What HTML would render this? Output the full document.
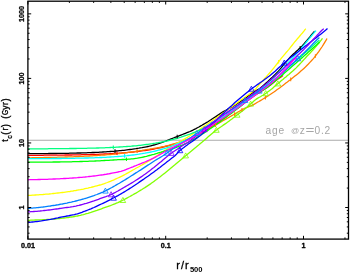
<!DOCTYPE html>
<html><head><meta charset="utf-8"><title>cooling time</title>
<style>
html,body{margin:0;padding:0;background:#fff;}
body{width:350px;height:273px;overflow:hidden;font-family:"Liberation Sans",sans-serif;}
svg{display:block;}
text{font-family:"Liberation Sans",sans-serif;}
</style></head><body>
<svg width="350" height="273" viewBox="0 0 350 273" style="will-change:transform">
<rect width="350" height="273" fill="#fff"/>
<line x1="27.9" y1="140.2" x2="348.5" y2="140.2" stroke="#aaaaaa" stroke-width="1.1"/>
<text transform="translate(265.6 133.9) scale(1 1)" font-size="10.2" fill="#a6a6a6">a</text>
<text transform="translate(271.9 133.9) scale(1 1)" font-size="10.2" fill="#a6a6a6">g</text>
<text transform="translate(278.5 133.9) scale(1 1)" font-size="10.2" fill="#a6a6a6">e</text>
<text transform="translate(290.9 132.6) scale(1 1)" font-size="8.1" fill="#a6a6a6">@</text>
<text transform="translate(299.8 133.9) scale(1 1)" font-size="10.2" fill="#a6a6a6">z</text>
<text transform="translate(305.4 133.9) scale(1.5 1)" font-size="10.2" fill="#a6a6a6">=</text>
<text transform="translate(314.6 133.9) scale(1 1)" font-size="10.2" fill="#a6a6a6">0</text>
<text transform="translate(321.0 133.9) scale(1 1)" font-size="10.2" fill="#a6a6a6">.</text>
<text transform="translate(324.6 133.9) scale(1 1)" font-size="10.2" fill="#a6a6a6">2</text>
<path d="M27.9 153.7 L29.4 153.7 L30.9 153.7 L32.4 153.7 L33.9 153.7 L35.4 153.7 L36.9 153.6 L38.4 153.6 L39.9 153.6 L41.4 153.6 L42.9 153.6 L44.4 153.6 L45.9 153.6 L47.4 153.6 L48.9 153.5 L50.4 153.5 L51.9 153.5 L53.4 153.5 L54.9 153.5 L56.4 153.5 L57.9 153.4 L59.4 153.4 L60.9 153.4 L62.4 153.4 L63.9 153.3 L65.4 153.3 L66.9 153.3 L68.4 153.3 L69.9 153.2 L71.4 153.2 L72.9 153.2 L74.4 153.1 L75.9 153.1 L77.4 153.0 L78.9 153.0 L80.4 153.0 L81.9 152.9 L83.4 152.9 L84.9 152.8 L86.4 152.8 L87.9 152.7 L89.4 152.7 L90.9 152.6 L92.4 152.5 L93.9 152.5 L95.4 152.4 L96.9 152.3 L98.4 152.3 L99.9 152.2 L101.4 152.1 L102.9 152.0 L104.4 151.9 L105.9 151.8 L107.4 151.7 L108.9 151.6 L110.4 151.5 L111.9 151.4 L113.4 151.3 L114.9 151.2 L116.4 151.0 L117.9 150.9 L119.4 150.7 L120.9 150.6 L122.4 150.4 L123.9 150.3 L125.4 150.1 L126.9 149.9 L128.4 149.7 L129.9 149.5 L131.4 149.3 L132.9 149.1 L134.4 148.9 L135.9 148.7 L137.4 148.4 L138.9 148.2 L140.4 147.9 L141.9 147.7 L143.4 147.4 L144.9 147.1 L146.4 146.8 L147.9 146.5 L149.4 146.2 L150.9 145.8 L152.4 145.4 L153.9 145.0 L155.4 144.6 L156.9 144.1 L158.4 143.7 L159.9 143.1 L161.4 142.6 L162.9 142.1 L164.4 141.5 L165.9 141.0 L167.4 140.4 L168.9 139.8 L170.4 139.2 L171.9 138.6 L173.4 138.0 L174.9 137.4 L176.4 136.8 L177.9 136.3 L179.4 135.7 L180.9 135.1 L182.4 134.5 L183.9 133.9 L185.4 133.3 L186.9 132.7 L188.4 132.1 L189.9 131.5 L191.4 130.8 L192.9 130.1 L194.4 129.3 L195.9 128.6 L197.4 127.8 L198.9 127.0 L200.4 126.1 L201.9 125.3 L203.4 124.4 L204.9 123.5 L206.4 122.6 L207.9 121.7 L209.4 120.7 L210.9 119.8 L212.4 118.8 L213.9 117.8 L215.4 116.9 L216.9 115.9 L218.4 114.9 L219.9 113.9 L221.4 112.9 L222.9 111.9 L224.4 111.0 L225.9 110.2 L227.4 109.4 L228.9 108.7 L230.4 107.9 L231.9 107.1 L233.4 106.3 L234.9 105.3 L236.4 104.3 L237.9 103.3 L239.4 102.3 L240.9 101.2 L242.4 100.2 L243.9 99.1 L245.4 98.0 L246.9 96.9 L248.4 95.8 L249.9 94.7 L251.4 93.6 L252.9 92.6 L254.4 91.6 L255.9 90.7 L257.4 89.8 L258.9 89.0 L260.4 88.0 L261.9 86.7 L263.4 85.4 L264.9 84.1 L266.4 82.7 L267.9 81.4 L269.4 80.0 L270.9 78.6 L272.4 77.2 L273.9 75.7 L275.4 74.3 L276.9 72.7 L278.4 71.1 L279.9 69.4 L281.4 67.6 L282.9 65.7 L284.4 63.9 L285.9 62.1 L287.4 60.4 L288.9 58.6 L290.4 56.9 L291.9 55.4 L293.4 54.0 L294.9 52.7 L296.4 51.3 L297.9 50.0 L299.4 48.6 L300.9 47.2 L302.4 45.7 L303.9 44.0 L305.4 42.2 L306.9 40.5 L308.4 38.7 L309.9 36.9 L311.4 34.9 L312.9 33.1 L314.4 31.5 L314.7 31.2" fill="none" stroke="#000000" stroke-width="1.3" stroke-linejoin="round"/>
<path d="M27.9 155.3 L29.4 155.3 L30.9 155.3 L32.4 155.3 L33.9 155.3 L35.4 155.3 L36.9 155.3 L38.4 155.3 L39.9 155.3 L41.4 155.3 L42.9 155.3 L44.4 155.2 L45.9 155.2 L47.4 155.2 L48.9 155.2 L50.4 155.2 L51.9 155.2 L53.4 155.2 L54.9 155.2 L56.4 155.1 L57.9 155.1 L59.4 155.1 L60.9 155.1 L62.4 155.1 L63.9 155.1 L65.4 155.0 L66.9 155.0 L68.4 155.0 L69.9 155.0 L71.4 155.0 L72.9 154.9 L74.4 154.9 L75.9 154.9 L77.4 154.8 L78.9 154.8 L80.4 154.8 L81.9 154.7 L83.4 154.7 L84.9 154.7 L86.4 154.6 L87.9 154.6 L89.4 154.6 L90.9 154.5 L92.4 154.5 L93.9 154.4 L95.4 154.4 L96.9 154.3 L98.4 154.3 L99.9 154.2 L101.4 154.1 L102.9 154.1 L104.4 154.0 L105.9 153.9 L107.4 153.9 L108.9 153.8 L110.4 153.7 L111.9 153.6 L113.4 153.5 L114.9 153.5 L116.4 153.4 L117.9 153.3 L119.4 153.2 L120.9 153.1 L122.4 152.9 L123.9 152.8 L125.4 152.7 L126.9 152.6 L128.4 152.4 L129.9 152.3 L131.4 152.1 L132.9 152.0 L134.4 151.8 L135.9 151.7 L137.4 151.5 L138.9 151.3 L140.4 151.1 L141.9 150.9 L143.4 150.7 L144.9 150.5 L146.4 150.3 L147.9 150.0 L149.4 149.8 L150.9 149.5 L152.4 149.3 L153.9 149.0 L155.4 148.7 L156.9 148.4 L158.4 148.1 L159.9 147.8 L161.4 147.5 L162.9 147.1 L164.4 146.8 L165.9 146.4 L167.4 146.0 L168.9 145.7 L170.4 145.2 L171.9 144.8 L173.4 144.4 L174.9 143.9 L176.4 143.5 L177.9 143.0 L179.4 142.5 L180.9 142.0 L182.4 141.5 L183.9 141.0 L185.4 140.4 L186.9 139.8 L188.4 139.2 L189.9 138.5 L191.4 137.7 L192.9 137.0 L194.4 136.2 L195.9 135.4 L197.4 134.6 L198.9 133.8 L200.4 133.0 L201.9 132.1 L203.4 131.2 L204.9 130.4 L206.4 129.4 L207.9 128.5 L209.4 127.6 L210.9 126.6 L212.4 125.7 L213.9 124.7 L215.4 123.7 L216.9 122.8 L218.4 121.8 L219.9 120.8 L221.4 119.8 L222.9 118.7 L224.4 117.7 L225.9 116.7 L227.4 115.6 L228.9 114.5 L230.4 113.5 L231.9 112.4 L233.4 111.3 L234.9 110.2 L236.4 109.1 L237.9 108.0 L239.4 106.9 L240.9 105.7 L242.4 104.6 L243.9 103.4 L245.4 102.3 L246.9 101.1 L248.4 99.9 L249.9 98.8 L251.4 97.7 L252.9 96.6 L254.4 95.7 L255.9 94.7 L257.4 93.8 L258.9 92.9 L260.4 91.9 L261.9 91.0 L263.4 90.0 L264.9 89.0 L266.4 88.0 L267.9 86.9 L269.4 85.8 L270.9 84.7 L272.4 83.5 L273.9 82.3 L275.4 81.0 L276.9 79.8 L278.4 78.7 L279.9 77.7 L281.4 76.7 L282.9 75.6 L283.0 75.5" fill="none" stroke="#ff0000" stroke-width="1.3" stroke-linejoin="round"/>
<path d="M27.9 157.8 L29.4 157.8 L30.9 157.8 L32.4 157.7 L33.9 157.7 L35.4 157.7 L36.9 157.7 L38.4 157.7 L39.9 157.6 L41.4 157.6 L42.9 157.6 L44.4 157.5 L45.9 157.5 L47.4 157.5 L48.9 157.5 L50.4 157.4 L51.9 157.4 L53.4 157.4 L54.9 157.3 L56.4 157.3 L57.9 157.2 L59.4 157.2 L60.9 157.2 L62.4 157.1 L63.9 157.1 L65.4 157.0 L66.9 157.0 L68.4 156.9 L69.9 156.9 L71.4 156.8 L72.9 156.8 L74.4 156.7 L75.9 156.6 L77.4 156.6 L78.9 156.5 L80.4 156.4 L81.9 156.4 L83.4 156.3 L84.9 156.2 L86.4 156.2 L87.9 156.1 L89.4 156.0 L90.9 155.9 L92.4 155.8 L93.9 155.7 L95.4 155.6 L96.9 155.5 L98.4 155.4 L99.9 155.3 L101.4 155.2 L102.9 155.1 L104.4 155.0 L105.9 154.8 L107.4 154.7 L108.9 154.6 L110.4 154.5 L111.9 154.3 L113.4 154.2 L114.9 154.0 L116.4 153.9 L117.9 153.7 L119.4 153.5 L120.9 153.4 L122.4 153.2 L123.9 153.0 L125.4 152.8 L126.9 152.6 L128.4 152.4 L129.9 152.2 L131.4 152.0 L132.9 151.8 L134.4 151.6 L135.9 151.3 L137.4 151.1 L138.9 150.9 L140.4 150.6 L141.9 150.4 L143.4 150.1 L144.9 149.9 L146.4 149.6 L147.9 149.4 L149.4 149.2 L150.9 148.9 L152.4 148.7 L153.9 148.4 L155.4 148.1 L156.9 147.9 L158.4 147.6 L159.9 147.3 L161.4 147.0 L162.9 146.7 L164.4 146.4 L165.9 146.0 L167.4 145.7 L168.9 145.3 L170.4 144.9 L171.9 144.4 L173.4 144.0 L174.9 143.6 L176.4 143.1 L177.9 142.6 L179.4 142.2 L180.9 141.7 L182.4 141.2 L183.9 140.7 L185.4 140.1 L186.9 139.5 L188.4 138.9 L189.9 138.3 L191.4 137.7 L192.9 137.0 L194.4 136.3 L195.9 135.6 L197.4 134.9 L198.9 134.2 L200.4 133.4 L201.9 132.7 L203.4 131.9 L204.9 131.1 L206.4 130.3 L207.9 129.5 L209.4 128.6 L210.9 127.8 L212.4 126.9 L213.9 126.0 L215.4 125.2 L216.9 124.3 L218.4 123.4 L219.9 122.5 L221.4 121.7 L222.9 120.8 L224.4 119.9 L225.9 119.1 L227.4 118.2 L228.9 117.4 L230.4 116.5 L231.9 115.6 L233.4 114.8 L234.9 113.9 L236.4 113.0 L237.9 112.1 L239.4 111.3 L240.9 110.4 L242.4 109.5 L243.9 108.7 L245.4 108.0 L246.9 107.4 L248.4 106.8 L249.9 106.2 L251.4 105.6 L252.9 104.9 L254.4 104.1 L255.9 103.2 L257.4 102.3 L258.9 101.5 L260.4 100.6 L261.9 99.7 L263.4 98.8 L264.9 97.9 L266.4 96.9 L267.9 96.0 L269.4 95.0 L270.9 94.0 L272.4 93.0 L273.9 92.0 L275.4 90.9 L276.9 89.8 L278.4 88.8 L279.9 87.7 L281.4 86.5 L282.9 85.4 L284.4 84.3 L285.9 83.1 L287.4 82.0 L288.9 80.8 L290.4 79.7 L291.9 78.5 L293.4 77.3 L294.9 76.1 L296.4 74.9 L297.9 73.7 L299.4 72.4 L300.9 71.1 L302.4 69.8 L303.9 68.4 L305.4 67.0 L306.9 65.5 L308.4 64.0 L309.9 62.4 L311.4 60.8 L312.9 59.1 L314.4 57.3 L315.9 55.4 L317.4 53.4 L318.9 51.4 L320.4 49.2 L321.9 47.0 L323.4 44.6 L324.9 42.1 L326.4 39.6 L327.0 38.5" fill="none" stroke="#ff8000" stroke-width="1.3" stroke-linejoin="round"/>
<path d="M27.9 195.4 L29.4 195.3 L30.9 195.3 L32.4 195.2 L33.9 195.1 L35.4 195.0 L36.9 194.9 L38.4 194.8 L39.9 194.7 L41.4 194.6 L42.9 194.5 L44.4 194.3 L45.9 194.2 L47.4 194.1 L48.9 194.0 L50.4 193.8 L51.9 193.7 L53.4 193.5 L54.9 193.4 L56.4 193.2 L57.9 193.0 L59.4 192.9 L60.9 192.7 L62.4 192.5 L63.9 192.3 L65.4 192.1 L66.9 191.9 L68.4 191.7 L69.9 191.5 L71.4 191.2 L72.9 191.0 L74.4 190.7 L75.9 190.5 L77.4 190.2 L78.9 189.9 L80.4 189.7 L81.9 189.4 L83.4 189.1 L84.9 188.7 L86.4 188.4 L87.9 188.1 L89.4 187.7 L90.9 187.4 L92.4 187.0 L93.9 186.6 L95.4 186.2 L96.9 185.8 L98.4 185.4 L99.9 185.0 L101.4 184.6 L102.9 184.1 L104.4 183.6 L105.9 183.0 L107.4 182.5 L108.9 181.9 L110.4 181.3 L111.9 180.7 L113.4 180.1 L114.9 179.4 L116.4 178.7 L117.9 178.0 L119.4 177.3 L120.9 176.6 L122.4 175.9 L123.9 175.1 L125.4 174.3 L126.9 173.4 L128.4 172.6 L129.9 171.7 L131.4 170.9 L132.9 170.0 L134.4 169.2 L135.9 168.3 L137.4 167.5 L138.9 166.7 L140.4 165.8 L141.9 165.0 L143.4 164.1 L144.9 163.2 L146.4 162.4 L147.9 161.5 L149.4 160.6 L150.9 159.6 L152.4 158.7 L153.9 157.7 L155.4 156.7 L156.9 155.8 L158.4 154.7 L159.9 153.7 L161.4 152.7 L162.9 151.7 L164.4 150.7 L165.9 149.8 L167.4 148.8 L168.9 148.0 L170.4 147.2 L171.9 146.3 L173.4 145.5 L174.9 144.6 L176.4 143.8 L177.9 142.9 L179.4 142.0 L180.9 141.2 L182.4 140.3 L183.9 139.4 L185.4 138.5 L186.9 137.6 L188.4 136.7 L189.9 135.8 L191.4 134.8 L192.9 133.9 L194.4 132.9 L195.9 132.0 L197.4 131.0 L198.9 130.0 L200.4 128.9 L201.9 127.9 L203.4 126.9 L204.9 125.9 L206.4 124.8 L207.9 123.8 L209.4 122.7 L210.9 121.7 L212.4 120.6 L213.9 119.5 L215.4 118.5 L216.9 117.4 L218.4 116.3 L219.9 115.3 L221.4 114.2 L222.9 113.1 L224.4 112.1 L225.9 111.0 L227.4 109.9 L228.9 108.8 L230.4 107.7 L231.9 106.6 L233.4 105.6 L234.9 104.5 L236.4 103.4 L237.9 102.3 L239.4 101.2 L240.9 100.1 L242.4 99.0 L243.9 98.0 L245.4 96.9 L246.9 95.8 L248.4 94.8 L249.9 93.7 L251.4 92.6 L252.9 91.5 L254.4 90.2 L255.9 88.6 L257.4 86.8 L258.9 85.1 L260.4 83.4 L261.9 81.7 L263.4 80.0 L264.9 78.3 L266.4 76.6 L267.9 74.9 L269.4 73.2 L270.9 71.5 L272.4 69.7 L273.9 67.8 L275.4 65.9 L276.9 64.0 L278.4 62.0 L279.9 60.1 L281.4 58.2 L282.9 56.4 L284.4 54.6 L285.9 52.8 L287.4 51.1 L288.9 49.3 L290.4 47.4 L291.9 45.5 L293.4 43.6 L294.9 41.7 L296.4 40.0 L297.9 38.2 L299.4 36.5 L300.9 34.6 L302.4 33.0 L303.9 31.2 L305.4 29.1 L305.7 28.6" fill="none" stroke="#ffff00" stroke-width="1.3" stroke-linejoin="round"/>
<path d="M27.9 220.4 L29.4 220.3 L30.9 220.2 L32.4 220.1 L33.9 220.1 L35.4 220.0 L36.9 219.9 L38.4 219.9 L39.9 219.8 L41.4 219.8 L42.9 219.7 L44.4 219.6 L45.9 219.6 L47.4 219.5 L48.9 219.4 L50.4 219.3 L51.9 219.2 L53.4 219.1 L54.9 219.0 L56.4 218.9 L57.9 218.7 L59.4 218.5 L60.9 218.4 L62.4 218.2 L63.9 218.0 L65.4 217.9 L66.9 217.7 L68.4 217.5 L69.9 217.2 L71.4 217.0 L72.9 216.8 L74.4 216.5 L75.9 216.2 L77.4 216.0 L78.9 215.6 L80.4 215.3 L81.9 214.9 L83.4 214.6 L84.9 214.2 L86.4 213.7 L87.9 213.3 L89.4 212.8 L90.9 212.4 L92.4 211.9 L93.9 211.4 L95.4 210.9 L96.9 210.4 L98.4 209.8 L99.9 209.3 L101.4 208.8 L102.9 208.2 L104.4 207.7 L105.9 207.2 L107.4 206.7 L108.9 206.1 L110.4 205.6 L111.9 205.0 L113.4 204.4 L114.9 203.8 L116.4 203.2 L117.9 202.6 L119.4 201.9 L120.9 201.2 L122.4 200.5 L123.9 199.7 L125.4 198.9 L126.9 198.1 L128.4 197.3 L129.9 196.5 L131.4 195.6 L132.9 194.8 L134.4 193.9 L135.9 193.1 L137.4 192.2 L138.9 191.3 L140.4 190.4 L141.9 189.5 L143.4 188.5 L144.9 187.6 L146.4 186.6 L147.9 185.6 L149.4 184.6 L150.9 183.6 L152.4 182.5 L153.9 181.4 L155.4 180.3 L156.9 179.2 L158.4 178.1 L159.9 176.9 L161.4 175.7 L162.9 174.6 L164.4 173.4 L165.9 172.2 L167.4 171.0 L168.9 169.8 L170.4 168.6 L171.9 167.3 L173.4 166.0 L174.9 164.8 L176.4 163.5 L177.9 162.2 L179.4 161.0 L180.9 159.7 L182.4 158.4 L183.9 157.2 L185.4 155.9 L186.9 154.7 L188.4 153.4 L189.9 152.2 L191.4 151.0 L192.9 149.7 L194.4 148.5 L195.9 147.3 L197.4 146.0 L198.9 144.8 L200.4 143.5 L201.9 142.3 L203.4 141.0 L204.9 139.7 L206.4 138.4 L207.9 137.1 L209.4 135.8 L210.9 134.5 L212.4 133.3 L213.9 132.0 L215.4 130.8 L216.9 129.7 L218.4 128.6 L219.9 127.5 L221.4 126.5 L222.9 125.4 L224.4 124.4 L225.9 123.4 L227.4 122.3 L228.9 121.2 L230.4 120.1 L231.9 119.0 L233.4 117.8 L234.9 116.7 L236.4 115.6 L237.9 114.4 L239.4 113.3 L240.9 112.1 L242.4 110.9 L243.9 109.7 L245.4 108.5 L246.9 107.2 L248.4 105.9 L249.9 104.6 L251.4 103.2 L252.9 101.9 L254.4 100.6 L255.9 99.4 L257.4 98.4 L258.9 97.5 L260.4 96.7 L261.9 95.8 L263.4 95.0 L264.9 94.0 L266.4 92.9 L267.9 91.8 L269.4 90.7 L270.9 89.6 L272.4 88.4 L273.9 87.1 L275.4 85.8 L276.9 84.5 L278.4 83.2 L279.9 81.9 L281.4 80.6 L282.9 79.4 L284.4 78.1 L285.9 76.9 L287.4 75.6 L288.9 74.4 L290.4 73.1 L291.9 71.8 L293.4 70.5 L294.9 69.1 L296.4 67.6 L297.9 66.0 L299.4 64.5 L300.9 62.9 L302.4 61.2 L303.9 59.6 L305.4 58.0 L306.9 56.3 L308.4 54.7 L309.9 53.2 L311.4 51.6 L312.9 50.0 L314.4 48.3 L315.9 46.6 L317.4 44.9 L318.9 43.0 L320.4 41.2 L321.9 39.2 L322.5 38.4" fill="none" stroke="#80ff00" stroke-width="1.3" stroke-linejoin="round"/>
<path d="M27.9 162.2 L29.4 162.2 L30.9 162.2 L32.4 162.2 L33.9 162.2 L35.4 162.2 L36.9 162.2 L38.4 162.2 L39.9 162.2 L41.4 162.2 L42.9 162.1 L44.4 162.1 L45.9 162.1 L47.4 162.1 L48.9 162.1 L50.4 162.1 L51.9 162.1 L53.4 162.0 L54.9 162.0 L56.4 162.0 L57.9 162.0 L59.4 162.0 L60.9 161.9 L62.4 161.9 L63.9 161.9 L65.4 161.9 L66.9 161.8 L68.4 161.8 L69.9 161.8 L71.4 161.8 L72.9 161.7 L74.4 161.7 L75.9 161.6 L77.4 161.6 L78.9 161.6 L80.4 161.5 L81.9 161.5 L83.4 161.4 L84.9 161.4 L86.4 161.3 L87.9 161.3 L89.4 161.2 L90.9 161.2 L92.4 161.1 L93.9 161.1 L95.4 161.0 L96.9 160.9 L98.4 160.9 L99.9 160.8 L101.4 160.7 L102.9 160.6 L104.4 160.5 L105.9 160.4 L107.4 160.4 L108.9 160.3 L110.4 160.1 L111.9 160.1 L113.4 160.0 L114.9 159.9 L116.4 159.8 L117.9 159.7 L119.4 159.7 L120.9 159.6 L122.4 159.5 L123.9 159.5 L125.4 159.4 L126.9 159.3 L128.4 159.2 L129.9 159.1 L131.4 158.9 L132.9 158.8 L134.4 158.6 L135.9 158.4 L137.4 158.2 L138.9 157.9 L140.4 157.6 L141.9 157.3 L143.4 157.0 L144.9 156.6 L146.4 156.3 L147.9 155.9 L149.4 155.5 L150.9 155.1 L152.4 154.7 L153.9 154.3 L155.4 153.8 L156.9 153.4 L158.4 152.9 L159.9 152.5 L161.4 152.0 L162.9 151.6 L164.4 151.1 L165.9 150.7 L167.4 150.2 L168.9 149.8 L170.4 149.3 L171.9 148.8 L173.4 148.3 L174.9 147.8 L176.4 147.3 L177.9 146.7 L179.4 146.2 L180.9 145.6 L182.4 145.0 L183.9 144.4 L185.4 143.7 L186.9 143.0 L188.4 142.3 L189.9 141.5 L191.4 140.7 L192.9 139.8 L194.4 139.0 L195.9 138.1 L197.4 137.1 L198.9 136.2 L200.4 135.3 L201.9 134.3 L203.4 133.4 L204.9 132.4 L206.4 131.4 L207.9 130.4 L209.4 129.3 L210.9 128.3 L212.4 127.2 L213.9 126.2 L215.4 125.1 L216.9 124.0 L218.4 123.0 L219.9 121.9 L221.4 120.8 L222.9 119.6 L224.4 118.5 L225.9 117.4 L227.4 116.3 L228.9 115.1 L230.4 114.0 L231.9 112.9 L233.4 111.8 L234.9 110.6 L236.4 109.5 L237.9 108.3 L239.4 107.2 L240.9 106.0 L242.4 104.8 L243.9 103.6 L245.4 102.3 L246.9 101.0 L248.4 99.7 L249.9 98.5 L251.4 97.4 L252.9 96.3 L254.4 95.3 L255.9 94.4 L257.4 93.5 L258.9 92.6 L260.4 91.6 L261.9 90.7 L263.4 89.9 L264.9 89.0 L266.4 88.1 L267.9 87.0 L269.4 85.8 L270.9 84.5 L272.4 83.3 L273.9 82.0 L275.4 80.8 L276.9 79.5 L278.4 78.3 L279.9 77.0 L281.4 75.7 L282.9 74.4 L284.4 73.1 L285.9 71.8 L287.4 70.5 L288.9 69.2 L290.4 67.9 L291.9 66.6 L293.4 65.3 L294.9 64.0 L296.4 62.7 L297.9 61.3 L299.4 60.0 L300.9 58.7 L302.4 57.4 L303.9 56.1 L305.4 54.7 L306.9 53.4 L308.4 52.1 L309.9 50.7 L311.4 49.4 L312.9 48.1 L314.4 46.7 L315.9 45.4 L317.4 44.1 L318.9 42.7 L319.7 42.0" fill="none" stroke="#00ff00" stroke-width="1.3" stroke-linejoin="round"/>
<path d="M27.9 148.8 L29.4 148.8 L30.9 148.8 L32.4 148.8 L33.9 148.8 L35.4 148.8 L36.9 148.8 L38.4 148.8 L39.9 148.8 L41.4 148.8 L42.9 148.8 L44.4 148.8 L45.9 148.8 L47.4 148.8 L48.9 148.7 L50.4 148.7 L51.9 148.7 L53.4 148.7 L54.9 148.7 L56.4 148.7 L57.9 148.7 L59.4 148.7 L60.9 148.6 L62.4 148.6 L63.9 148.6 L65.4 148.6 L66.9 148.6 L68.4 148.6 L69.9 148.5 L71.4 148.5 L72.9 148.5 L74.4 148.5 L75.9 148.5 L77.4 148.4 L78.9 148.4 L80.4 148.4 L81.9 148.4 L83.4 148.3 L84.9 148.3 L86.4 148.3 L87.9 148.2 L89.4 148.2 L90.9 148.2 L92.4 148.1 L93.9 148.1 L95.4 148.1 L96.9 148.0 L98.4 148.0 L99.9 147.9 L101.4 147.9 L102.9 147.8 L104.4 147.8 L105.9 147.7 L107.4 147.6 L108.9 147.6 L110.4 147.5 L111.9 147.4 L113.4 147.4 L114.9 147.3 L116.4 147.2 L117.9 147.1 L119.4 147.0 L120.9 146.9 L122.4 146.8 L123.9 146.7 L125.4 146.6 L126.9 146.5 L128.4 146.4 L129.9 146.3 L131.4 146.2 L132.9 146.0 L134.4 145.9 L135.9 145.8 L137.4 145.6 L138.9 145.4 L140.4 145.3 L141.9 145.1 L143.4 144.9 L144.9 144.7 L146.4 144.5 L147.9 144.3 L149.4 144.1 L150.9 143.9 L152.4 143.7 L153.9 143.4 L155.4 143.2 L156.9 142.9 L158.4 142.7 L159.9 142.4 L161.4 142.1 L162.9 141.8 L164.4 141.5 L165.9 141.1 L167.4 140.8 L168.9 140.5 L170.4 140.1 L171.9 139.7 L173.4 139.3 L174.9 138.9 L176.4 138.5 L177.9 138.1 L179.4 137.6 L180.9 137.2 L182.4 136.7 L183.9 136.2 L185.4 135.7 L186.9 135.2 L188.4 134.6 L189.9 134.1 L191.4 133.5 L192.9 132.9 L194.4 132.3 L195.9 131.7 L197.4 131.0 L198.9 130.4 L200.4 129.7 L201.9 129.0 L203.4 128.3 L204.9 127.6 L206.4 126.8 L207.9 126.1 L209.4 125.3 L210.9 124.5 L212.4 123.7 L213.9 122.9 L215.4 122.1 L216.9 121.2 L218.4 120.3 L219.9 119.5 L221.4 118.6 L222.9 117.6 L224.4 116.7 L225.9 115.8 L227.4 114.8 L228.9 113.8 L230.4 112.9 L231.9 111.9 L233.4 110.9 L234.9 109.8 L236.4 108.8 L237.9 107.7 L239.4 106.7 L240.9 105.6 L242.4 104.5 L243.9 103.4 L245.4 102.3 L246.9 101.2 L248.4 100.1 L249.9 98.9 L251.4 97.8 L252.9 96.6 L254.4 95.5 L255.9 94.3 L257.4 93.1 L258.9 91.9 L260.4 90.8 L261.9 89.5 L263.4 88.3 L264.9 87.1 L266.4 85.9 L267.9 84.7 L269.4 83.4 L270.9 82.2 L272.4 80.9 L273.9 79.7 L275.4 78.4 L276.9 77.2 L278.4 75.9 L279.9 74.6 L281.4 73.4 L282.9 72.1 L284.4 70.8 L285.9 69.5 L287.4 68.2 L288.9 66.9 L290.4 65.6 L291.9 64.3 L293.4 63.0 L294.9 61.7 L296.4 60.4 L297.9 59.1 L299.4 57.8 L300.9 56.5 L302.4 55.1 L303.9 53.8 L305.4 52.5 L306.9 51.2 L308.4 49.8 L309.9 48.5 L311.4 47.2 L312.9 45.8 L314.4 44.5 L315.9 43.1 L317.4 41.8 L318.9 40.5 L319.4 40.0" fill="none" stroke="#00ff80" stroke-width="1.3" stroke-linejoin="round"/>
<path d="M27.9 158.7 L29.4 158.7 L30.9 158.7 L32.4 158.7 L33.9 158.6 L35.4 158.6 L36.9 158.6 L38.4 158.6 L39.9 158.6 L41.4 158.6 L42.9 158.6 L44.4 158.6 L45.9 158.6 L47.4 158.6 L48.9 158.6 L50.4 158.6 L51.9 158.5 L53.4 158.5 L54.9 158.5 L56.4 158.5 L57.9 158.5 L59.4 158.5 L60.9 158.5 L62.4 158.4 L63.9 158.4 L65.4 158.4 L66.9 158.4 L68.4 158.4 L69.9 158.3 L71.4 158.3 L72.9 158.3 L74.4 158.3 L75.9 158.2 L77.4 158.2 L78.9 158.2 L80.4 158.1 L81.9 158.1 L83.4 158.1 L84.9 158.0 L86.4 158.0 L87.9 158.0 L89.4 157.9 L90.9 157.9 L92.4 157.8 L93.9 157.8 L95.4 157.7 L96.9 157.7 L98.4 157.6 L99.9 157.5 L101.4 157.5 L102.9 157.4 L104.4 157.3 L105.9 157.3 L107.4 157.2 L108.9 157.1 L110.4 157.0 L111.9 156.9 L113.4 156.8 L114.9 156.7 L116.4 156.6 L117.9 156.5 L119.4 156.4 L120.9 156.3 L122.4 156.1 L123.9 156.0 L125.4 155.8 L126.9 155.7 L128.4 155.5 L129.9 155.4 L131.4 155.2 L132.9 155.0 L134.4 154.8 L135.9 154.6 L137.4 154.4 L138.9 154.2 L140.4 153.9 L141.9 153.7 L143.4 153.4 L144.9 153.2 L146.4 152.9 L147.9 152.6 L149.4 152.3 L150.9 152.0 L152.4 151.7 L153.9 151.3 L155.4 151.0 L156.9 150.6 L158.4 150.2 L159.9 149.8 L161.4 149.4 L162.9 149.0 L164.4 148.5 L165.9 148.1 L167.4 147.6 L168.9 147.1 L170.4 146.6 L171.9 146.0 L173.4 145.5 L174.9 144.9 L176.4 144.3 L177.9 143.7 L179.4 143.1 L180.9 142.4 L182.4 141.7 L183.9 141.0 L185.4 140.3 L186.9 139.6 L188.4 138.9 L189.9 138.1 L191.4 137.3 L192.9 136.5 L194.4 135.7 L195.9 134.8 L197.4 133.9 L198.9 133.0 L200.4 132.1 L201.9 131.2 L203.4 130.3 L204.9 129.4 L206.4 128.4 L207.9 127.5 L209.4 126.5 L210.9 125.5 L212.4 124.6 L213.9 123.6 L215.4 122.6 L216.9 121.6 L218.4 120.5 L219.9 119.5 L221.4 118.5 L222.9 117.4 L224.4 116.3 L225.9 115.3 L227.4 114.2 L228.9 113.1 L230.4 112.0 L231.9 110.9 L233.4 109.8 L234.9 108.7 L236.4 107.6 L237.9 106.5 L239.4 105.4 L240.9 104.3 L242.4 103.3 L243.9 102.2 L245.4 101.0 L246.9 99.9 L248.4 98.8 L249.9 97.6 L251.4 96.4 L252.9 95.2 L254.4 94.1 L255.9 92.9 L257.4 91.7 L258.9 90.5 L260.4 89.3 L261.9 88.1 L263.4 86.9 L264.9 85.6 L266.4 84.3 L267.9 83.0 L269.4 81.6 L270.9 80.2 L272.4 78.7 L273.9 77.3 L275.4 75.8 L276.9 74.3 L278.4 72.8 L279.9 71.3 L281.4 69.7 L282.9 68.2 L284.4 66.6 L285.9 65.1 L287.4 63.5 L288.9 61.9 L290.4 60.4 L291.9 58.8 L293.4 57.1 L294.9 55.5 L296.4 53.8 L297.9 52.1 L299.4 50.4 L300.9 48.7 L302.4 46.9 L303.9 45.1 L305.4 43.3 L306.9 41.5 L308.4 39.7 L309.9 37.8 L311.4 36.0 L312.9 34.1 L314.4 32.3 L315.9 30.7 L316.0 30.6" fill="none" stroke="#00ffff" stroke-width="1.3" stroke-linejoin="round"/>
<path d="M27.9 208.5 L29.4 208.3 L30.9 208.2 L32.4 208.1 L33.9 207.9 L35.4 207.8 L36.9 207.6 L38.4 207.5 L39.9 207.3 L41.4 207.1 L42.9 207.0 L44.4 206.8 L45.9 206.6 L47.4 206.4 L48.9 206.2 L50.4 206.0 L51.9 205.7 L53.4 205.5 L54.9 205.3 L56.4 205.0 L57.9 204.8 L59.4 204.5 L60.9 204.2 L62.4 204.0 L63.9 203.7 L65.4 203.4 L66.9 203.1 L68.4 202.7 L69.9 202.4 L71.4 202.1 L72.9 201.7 L74.4 201.4 L75.9 201.0 L77.4 200.6 L78.9 200.2 L80.4 199.8 L81.9 199.4 L83.4 199.0 L84.9 198.5 L86.4 198.1 L87.9 197.6 L89.4 197.1 L90.9 196.6 L92.4 196.1 L93.9 195.6 L95.4 195.0 L96.9 194.5 L98.4 193.9 L99.9 193.3 L101.4 192.7 L102.9 192.1 L104.4 191.4 L105.9 190.7 L107.4 189.9 L108.9 189.1 L110.4 188.3 L111.9 187.5 L113.4 186.6 L114.9 185.8 L116.4 184.9 L117.9 184.0 L119.4 183.2 L120.9 182.3 L122.4 181.4 L123.9 180.5 L125.4 179.6 L126.9 178.6 L128.4 177.7 L129.9 176.8 L131.4 175.8 L132.9 174.9 L134.4 173.9 L135.9 172.9 L137.4 172.0 L138.9 171.0 L140.4 170.1 L141.9 169.1 L143.4 168.1 L144.9 167.1 L146.4 166.1 L147.9 165.1 L149.4 164.2 L150.9 163.2 L152.4 162.2 L153.9 161.2 L155.4 160.3 L156.9 159.4 L158.4 158.5 L159.9 157.6 L161.4 156.7 L162.9 155.8 L164.4 154.8 L165.9 153.8 L167.4 152.7 L168.9 151.6 L170.4 150.5 L171.9 149.4 L173.4 148.4 L174.9 147.4 L176.4 146.4 L177.9 145.5 L179.4 144.6 L180.9 143.7 L182.4 142.8 L183.9 142.0 L185.4 141.1 L186.9 140.1 L188.4 139.2 L189.9 138.2 L191.4 137.2 L192.9 136.1 L194.4 135.1 L195.9 134.0 L197.4 133.0 L198.9 131.9 L200.4 130.8 L201.9 129.8 L203.4 128.7 L204.9 127.6 L206.4 126.6 L207.9 125.5 L209.4 124.5 L210.9 123.4 L212.4 122.4 L213.9 121.5 L215.4 120.5 L216.9 119.6 L218.4 118.6 L219.9 117.7 L221.4 116.7 L222.9 115.7 L224.4 114.7 L225.9 113.6 L227.4 112.6 L228.9 111.6 L230.4 110.5 L231.9 109.5 L233.4 108.4 L234.9 107.4 L236.4 106.3 L237.9 105.3 L239.4 104.2 L240.9 103.2 L242.4 102.1 L243.9 101.0 L245.4 100.0 L246.9 99.0 L248.4 97.9 L249.9 96.9 L251.4 95.9 L252.9 94.9 L254.4 93.9 L255.9 93.0 L257.4 92.0 L258.9 91.1 L260.4 90.2 L261.9 89.2 L263.4 88.2 L264.9 87.2 L266.4 86.2 L267.9 85.1 L269.4 83.9 L270.9 82.7 L272.4 81.5 L273.9 80.3 L275.4 79.0 L276.9 77.7 L278.4 76.4 L279.9 75.1 L281.4 73.7 L282.9 72.4 L284.4 71.1 L285.9 69.7 L287.4 68.3 L288.9 67.0 L290.4 65.6 L291.9 64.3 L293.4 62.9 L294.9 61.5 L296.4 60.1 L297.9 58.7 L299.4 57.3 L300.9 55.8 L302.4 54.4 L303.9 52.9 L305.4 51.5 L306.9 50.0 L308.4 48.5 L309.9 47.0 L311.4 45.4 L312.9 43.8 L314.4 42.2 L315.9 40.7 L317.4 39.2 L318.9 37.9 L319.4 37.5" fill="none" stroke="#0080ff" stroke-width="1.3" stroke-linejoin="round"/>
<path d="M27.9 222.5 L29.4 222.4 L30.9 222.2 L32.4 222.0 L33.9 221.9 L35.4 221.7 L36.9 221.5 L38.4 221.3 L39.9 221.1 L41.4 220.9 L42.9 220.6 L44.4 220.4 L45.9 220.2 L47.4 219.9 L48.9 219.6 L50.4 219.4 L51.9 219.1 L53.4 218.8 L54.9 218.5 L56.4 218.2 L57.9 217.9 L59.4 217.5 L60.9 217.2 L62.4 216.9 L63.9 216.6 L65.4 216.3 L66.9 216.0 L68.4 215.8 L69.9 215.5 L71.4 215.2 L72.9 214.9 L74.4 214.6 L75.9 214.2 L77.4 213.8 L78.9 213.3 L80.4 212.8 L81.9 212.3 L83.4 211.7 L84.9 211.2 L86.4 210.6 L87.9 210.0 L89.4 209.4 L90.9 208.8 L92.4 208.1 L93.9 207.5 L95.4 206.8 L96.9 206.1 L98.4 205.4 L99.9 204.7 L101.4 204.0 L102.9 203.3 L104.4 202.6 L105.9 201.9 L107.4 201.1 L108.9 200.4 L110.4 199.6 L111.9 198.8 L113.4 198.0 L114.9 197.2 L116.4 196.4 L117.9 195.6 L119.4 194.7 L120.9 193.9 L122.4 193.0 L123.9 192.1 L125.4 191.2 L126.9 190.3 L128.4 189.4 L129.9 188.4 L131.4 187.5 L132.9 186.5 L134.4 185.5 L135.9 184.5 L137.4 183.5 L138.9 182.4 L140.4 181.4 L141.9 180.4 L143.4 179.4 L144.9 178.3 L146.4 177.3 L147.9 176.3 L149.4 175.2 L150.9 174.1 L152.4 173.0 L153.9 171.9 L155.4 170.8 L156.9 169.7 L158.4 168.5 L159.9 167.4 L161.4 166.2 L162.9 165.1 L164.4 163.9 L165.9 162.8 L167.4 161.6 L168.9 160.5 L170.4 159.3 L171.9 158.1 L173.4 156.9 L174.9 155.7 L176.4 154.2 L177.9 152.6 L179.4 151.1 L180.9 149.7 L182.4 148.5 L183.9 147.4 L185.4 146.3 L186.9 145.2 L188.4 144.1 L189.9 143.0 L191.4 142.0 L192.9 140.9 L194.4 139.9 L195.9 138.8 L197.4 137.7 L198.9 136.6 L200.4 135.4 L201.9 134.1 L203.4 132.7 L204.9 131.3 L206.4 129.8 L207.9 128.3 L209.4 126.8 L210.9 125.3 L212.4 123.8 L213.9 122.3 L215.4 120.9 L216.9 119.5 L218.4 118.1 L219.9 116.6 L221.4 115.2 L222.9 113.8 L224.4 112.4 L225.9 110.9 L227.4 109.5 L228.9 108.1 L230.4 106.7 L231.9 105.4 L233.4 104.0 L234.9 102.6 L236.4 101.3 L237.9 100.0 L239.4 98.7 L240.9 97.4 L242.4 96.2 L243.9 95.0 L245.4 93.8 L246.9 92.6 L248.4 91.4 L249.9 90.2 L251.4 89.0 L252.9 87.8 L254.4 86.8 L255.9 85.7 L257.4 84.6 L258.9 83.6 L260.4 82.5 L261.9 81.5 L263.4 80.4 L264.9 79.3 L266.4 78.2 L267.9 77.1 L269.4 76.0 L270.9 74.8 L272.4 73.5 L273.9 72.2 L275.4 70.9 L276.9 69.5 L278.4 68.1 L279.9 66.7 L281.4 65.4 L282.9 64.0 L284.4 62.7 L285.9 61.5 L287.4 60.2 L288.9 59.0 L290.4 57.8 L291.9 56.6 L293.4 55.4 L294.9 54.3 L296.4 53.1 L297.9 51.9 L299.4 50.8 L300.9 49.6 L302.4 48.4 L303.9 47.3 L305.4 46.1 L306.9 44.9 L308.4 43.7 L309.9 42.6 L311.4 41.4 L312.9 40.3 L314.4 39.1 L315.9 38.0 L317.4 36.8 L318.9 35.6 L320.4 34.4 L321.9 33.2 L323.4 32.0 L324.9 30.8 L326.4 29.6 L327.5 28.6" fill="none" stroke="#0000ff" stroke-width="1.3" stroke-linejoin="round"/>
<path d="M27.9 212.0 L29.4 211.9 L30.9 211.7 L32.4 211.6 L33.9 211.5 L35.4 211.4 L36.9 211.3 L38.4 211.1 L39.9 211.0 L41.4 210.8 L42.9 210.7 L44.4 210.5 L45.9 210.4 L47.4 210.2 L48.9 210.0 L50.4 209.8 L51.9 209.6 L53.4 209.4 L54.9 209.2 L56.4 209.0 L57.9 208.8 L59.4 208.5 L60.9 208.3 L62.4 208.1 L63.9 207.9 L65.4 207.7 L66.9 207.5 L68.4 207.4 L69.9 207.2 L71.4 206.9 L72.9 206.7 L74.4 206.4 L75.9 206.1 L77.4 205.7 L78.9 205.4 L80.4 205.0 L81.9 204.6 L83.4 204.2 L84.9 203.7 L86.4 203.3 L87.9 202.8 L89.4 202.4 L90.9 201.9 L92.4 201.4 L93.9 200.9 L95.4 200.3 L96.9 199.8 L98.4 199.3 L99.9 198.7 L101.4 198.1 L102.9 197.6 L104.4 197.1 L105.9 196.6 L107.4 196.0 L108.9 195.5 L110.4 194.9 L111.9 194.2 L113.4 193.4 L114.9 192.7 L116.4 191.8 L117.9 191.0 L119.4 190.1 L120.9 189.2 L122.4 188.4 L123.9 187.5 L125.4 186.6 L126.9 185.7 L128.4 184.9 L129.9 184.0 L131.4 183.1 L132.9 182.2 L134.4 181.3 L135.9 180.3 L137.4 179.4 L138.9 178.4 L140.4 177.4 L141.9 176.4 L143.4 175.3 L144.9 174.3 L146.4 173.2 L147.9 172.1 L149.4 170.9 L150.9 169.8 L152.4 168.6 L153.9 167.5 L155.4 166.3 L156.9 165.1 L158.4 163.8 L159.9 162.6 L161.4 161.4 L162.9 160.1 L164.4 158.8 L165.9 157.5 L167.4 156.3 L168.9 155.1 L170.4 153.9 L171.9 152.8 L173.4 151.8 L174.9 150.7 L176.4 149.7 L177.9 148.7 L179.4 147.6 L180.9 146.6 L182.4 145.7 L183.9 144.8 L185.4 143.9 L186.9 143.0 L188.4 142.0 L189.9 141.0 L191.4 139.8 L192.9 138.6 L194.4 137.5 L195.9 136.3 L197.4 135.1 L198.9 133.9 L200.4 132.7 L201.9 131.5 L203.4 130.3 L204.9 129.1 L206.4 127.8 L207.9 126.6 L209.4 125.4 L210.9 124.2 L212.4 123.0 L213.9 121.8 L215.4 120.6 L216.9 119.4 L218.4 118.2 L219.9 117.1 L221.4 116.1 L222.9 115.0 L224.4 114.0 L225.9 113.0 L227.4 112.0 L228.9 111.0 L230.4 110.0 L231.9 109.0 L233.4 108.0 L234.9 107.0 L236.4 106.0 L237.9 105.0 L239.4 103.9 L240.9 102.8 L242.4 101.7 L243.9 100.6 L245.4 99.5 L246.9 98.4 L248.4 97.3 L249.9 96.1 L251.4 95.0 L252.9 93.9 L254.4 92.7 L255.9 91.6 L257.4 90.5 L258.9 89.4 L260.4 88.3 L261.9 87.2 L263.4 86.1 L264.9 85.0 L266.4 83.8 L267.9 82.5 L269.4 81.2 L270.9 79.9 L272.4 78.6 L273.9 77.3 L275.4 76.0 L276.9 74.6 L278.4 73.3 L279.9 71.9 L281.4 70.5 L282.9 69.2 L284.4 67.8 L285.9 66.3 L287.4 64.9 L288.9 63.5 L290.4 62.1 L291.9 60.7 L293.4 59.3 L294.9 57.9 L296.4 56.5 L297.9 55.1 L299.4 53.7 L300.9 52.3 L302.4 50.8 L303.9 49.4 L305.4 47.9 L306.9 46.3 L308.4 44.7 L309.9 43.1 L311.4 41.4 L312.9 39.8 L314.4 38.2 L315.9 36.6 L317.4 35.0 L318.9 33.4 L320.4 31.8 L321.9 30.3 L323.4 28.9 L323.7 28.6" fill="none" stroke="#8000ff" stroke-width="1.3" stroke-linejoin="round"/>
<path d="M27.9 179.8 L29.4 179.7 L30.9 179.7 L32.4 179.7 L33.9 179.6 L35.4 179.6 L36.9 179.6 L38.4 179.5 L39.9 179.5 L41.4 179.4 L42.9 179.4 L44.4 179.4 L45.9 179.3 L47.4 179.3 L48.9 179.2 L50.4 179.2 L51.9 179.1 L53.4 179.0 L54.9 179.0 L56.4 178.9 L57.9 178.8 L59.4 178.8 L60.9 178.7 L62.4 178.6 L63.9 178.5 L65.4 178.5 L66.9 178.4 L68.4 178.3 L69.9 178.2 L71.4 178.1 L72.9 178.0 L74.4 177.9 L75.9 177.8 L77.4 177.7 L78.9 177.5 L80.4 177.4 L81.9 177.3 L83.4 177.1 L84.9 177.0 L86.4 176.8 L87.9 176.7 L89.4 176.5 L90.9 176.4 L92.4 176.2 L93.9 176.0 L95.4 175.8 L96.9 175.6 L98.4 175.4 L99.9 175.2 L101.4 175.0 L102.9 174.8 L104.4 174.5 L105.9 174.3 L107.4 174.0 L108.9 173.8 L110.4 173.5 L111.9 173.2 L113.4 172.9 L114.9 172.6 L116.4 172.3 L117.9 172.0 L119.4 171.6 L120.9 171.3 L122.4 170.8 L123.9 170.4 L125.4 169.8 L126.9 169.2 L128.4 168.6 L129.9 168.0 L131.4 167.4 L132.9 166.8 L134.4 166.1 L135.9 165.6 L137.4 165.0 L138.9 164.4 L140.4 163.8 L141.9 163.2 L143.4 162.6 L144.9 162.0 L146.4 161.4 L147.9 160.7 L149.4 160.0 L150.9 159.3 L152.4 158.6 L153.9 157.9 L155.4 157.1 L156.9 156.3 L158.4 155.5 L159.9 154.6 L161.4 153.7 L162.9 152.9 L164.4 152.0 L165.9 151.1 L167.4 150.3 L168.9 149.4 L170.4 148.6 L171.9 147.8 L173.4 147.1 L174.9 146.4 L176.4 145.7 L177.9 145.0 L179.4 144.3 L180.9 143.7 L182.4 143.0 L183.9 142.3 L185.4 141.5 L186.9 140.7 L188.4 139.9 L189.9 139.1 L191.4 138.2 L192.9 137.4 L194.4 136.5 L195.9 135.6 L197.4 134.6 L198.9 133.7 L200.4 132.8 L201.9 131.8 L203.4 130.9 L204.9 129.9 L206.4 128.9 L207.9 128.0 L209.4 127.0 L210.9 126.0 L212.4 125.0 L213.9 124.0 L215.4 123.0 L216.9 122.0 L218.4 121.0 L219.9 120.0 L221.4 119.0 L222.9 118.0 L224.4 117.0 L225.9 115.9 L227.4 114.9 L228.9 113.9 L230.4 112.9 L231.9 111.8 L233.4 110.8 L234.9 109.7 L236.4 108.7 L237.9 107.7 L239.4 106.6 L240.9 105.5 L242.4 104.5 L243.9 103.4 L245.4 102.3 L246.9 101.2 L248.4 100.1 L249.9 99.1 L251.4 98.0 L252.9 96.9 L254.4 95.8 L255.9 94.7 L257.4 93.6 L258.9 92.5 L260.4 91.4 L261.9 90.3 L263.4 89.2 L264.9 88.1 L266.4 86.9 L267.9 85.7 L269.4 84.5 L270.9 83.2 L272.4 81.9 L273.9 80.6 L275.4 79.2 L276.9 77.7 L278.4 76.2 L279.9 74.7 L281.4 73.2 L282.9 71.7 L284.4 70.2 L285.9 68.7 L287.4 67.1 L288.9 65.4 L290.4 63.7 L291.9 62.0 L293.4 60.4 L294.9 58.9 L296.4 57.6 L296.5 57.5" fill="none" stroke="#ff00ff" stroke-width="1.3" stroke-linejoin="round"/>
<line x1="115.0" y1="149.3" x2="115.0" y2="152.9" stroke="#000000" stroke-width="1.1"/>
<line x1="177.2" y1="134.7" x2="177.2" y2="138.3" stroke="#000000" stroke-width="1.1"/>
<line x1="300.2" y1="46.1" x2="300.2" y2="49.7" stroke="#000000" stroke-width="1.1"/>
<line x1="117.0" y1="151.5" x2="117.0" y2="155.1" stroke="#ff0000" stroke-width="1.1"/>
<line x1="137.1" y1="149.3" x2="137.1" y2="152.9" stroke="#ff8000" stroke-width="1.1"/>
<line x1="215.5" y1="123.3" x2="215.5" y2="126.9" stroke="#ff8000" stroke-width="1.1"/>
<line x1="234.6" y1="112.3" x2="234.6" y2="115.9" stroke="#ff8000" stroke-width="1.1"/>
<line x1="242.0" y1="107.9" x2="242.0" y2="111.5" stroke="#ff8000" stroke-width="1.1"/>
<line x1="265.4" y1="95.8" x2="265.4" y2="99.4" stroke="#ff8000" stroke-width="1.1"/>
<line x1="290.7" y1="77.6" x2="290.7" y2="81.2" stroke="#ff8000" stroke-width="1.1"/>
<line x1="315.4" y1="54.2" x2="315.4" y2="57.8" stroke="#ff8000" stroke-width="1.1"/>
<line x1="278.6" y1="60.0" x2="278.6" y2="63.6" stroke="#ffff00" stroke-width="1.1"/>
<path d="M122.9 197.4 L125.7 202.5 L120.1 202.5 Z" fill="none" stroke="#80ff00" stroke-width="0.8"/>
<path d="M185.7 152.9 L188.5 157.9 L182.9 157.9 Z" fill="none" stroke="#80ff00" stroke-width="0.8"/>
<path d="M216.4 127.3 L219.2 132.3 L213.6 132.3 Z" fill="none" stroke="#80ff00" stroke-width="0.8"/>
<path d="M237.2 112.2 L240.0 117.2 L234.4 117.2 Z" fill="none" stroke="#80ff00" stroke-width="0.8"/>
<path d="M250.7 101.1 L253.5 106.1 L247.9 106.1 Z" fill="none" stroke="#80ff00" stroke-width="0.8"/>
<path d="M265.7 90.6 L268.5 95.7 L262.9 95.7 Z" fill="none" stroke="#80ff00" stroke-width="0.8"/>
<path d="M277.9 80.9 L280.7 85.9 L275.1 85.9 Z" fill="none" stroke="#80ff00" stroke-width="0.8"/>
<line x1="126.4" y1="157.5" x2="126.4" y2="161.1" stroke="#00ff00" stroke-width="1.1"/>
<line x1="113.3" y1="145.6" x2="113.3" y2="149.2" stroke="#00ff80" stroke-width="1.1"/>
<line x1="301.4" y1="54.2" x2="301.4" y2="57.8" stroke="#00ff80" stroke-width="1.1"/>
<line x1="124.6" y1="154.1" x2="124.6" y2="157.7" stroke="#00ffff" stroke-width="1.1"/>
<path d="M105.4 188.1 L108.2 193.1 L102.6 193.1 Z" fill="none" stroke="#0080ff" stroke-width="0.8"/>
<path d="M167.0 150.2 L169.8 155.2 L164.2 155.2 Z" fill="none" stroke="#0080ff" stroke-width="0.8"/>
<path d="M197.0 130.5 L199.8 135.5 L194.2 135.5 Z" fill="none" stroke="#0080ff" stroke-width="0.8"/>
<path d="M245.0 97.5 L247.8 102.5 L242.2 102.5 Z" fill="none" stroke="#0080ff" stroke-width="0.8"/>
<path d="M259.3 88.1 L262.1 93.1 L256.5 93.1 Z" fill="none" stroke="#0080ff" stroke-width="0.8"/>
<path d="M298.0 55.8 L300.8 60.8 L295.2 60.8 Z" fill="none" stroke="#0080ff" stroke-width="0.8"/>
<path d="M113.6 195.1 L116.4 200.2 L110.8 200.2 Z" fill="none" stroke="#0000ff" stroke-width="0.8"/>
<path d="M180.0 147.7 L182.8 152.7 L177.2 152.7 Z" fill="none" stroke="#0000ff" stroke-width="0.8"/>
<path d="M251.4 86.2 L254.2 91.2 L248.6 91.2 Z" fill="none" stroke="#0000ff" stroke-width="0.8"/>
<path d="M284.3 60.0 L287.1 65.1 L281.5 65.1 Z" fill="none" stroke="#0000ff" stroke-width="0.8"/>
<path d="M111.1 191.7 L113.9 196.8 L108.3 196.8 Z" fill="none" stroke="#8000ff" stroke-width="0.8"/>
<path d="M171.4 150.4 L174.2 155.4 L168.6 155.4 Z" fill="none" stroke="#8000ff" stroke-width="0.8"/>
<path d="M204.4 126.7 L207.2 131.7 L201.6 131.7 Z" fill="none" stroke="#8000ff" stroke-width="0.8"/>
<g stroke="#000" stroke-width="1.3" fill="none">
<rect x="27.9" y="1.2" width="320.6" height="237.9"/>
</g>
<path d="M27.90 239.1 v-3.3 M27.90 1.2 v3.3 M69.38 239.1 v-1.7 M69.38 1.2 v1.7 M93.65 239.1 v-1.7 M93.65 1.2 v1.7 M110.86 239.1 v-1.7 M110.86 1.2 v1.7 M124.22 239.1 v-1.7 M124.22 1.2 v1.7 M135.13 239.1 v-1.7 M135.13 1.2 v1.7 M144.35 239.1 v-1.7 M144.35 1.2 v1.7 M152.35 239.1 v-1.7 M152.35 1.2 v1.7 M159.39 239.1 v-1.7 M159.39 1.2 v1.7 M165.70 239.1 v-3.3 M165.70 1.2 v3.3 M207.18 239.1 v-1.7 M207.18 1.2 v1.7 M231.45 239.1 v-1.7 M231.45 1.2 v1.7 M248.66 239.1 v-1.7 M248.66 1.2 v1.7 M262.02 239.1 v-1.7 M262.02 1.2 v1.7 M272.93 239.1 v-1.7 M272.93 1.2 v1.7 M282.15 239.1 v-1.7 M282.15 1.2 v1.7 M290.15 239.1 v-1.7 M290.15 1.2 v1.7 M297.19 239.1 v-1.7 M297.19 1.2 v1.7 M303.50 239.1 v-3.3 M303.50 1.2 v3.3 M344.98 239.1 v-1.7 M344.98 1.2 v1.7 M27.9 233.19 h1.7 M348.5 233.19 h-1.7 M27.9 226.93 h1.7 M348.5 226.93 h-1.7 M27.9 221.82 h1.7 M348.5 221.82 h-1.7 M27.9 217.50 h1.7 M348.5 217.50 h-1.7 M27.9 213.76 h1.7 M348.5 213.76 h-1.7 M27.9 210.45 h1.7 M348.5 210.45 h-1.7 M27.9 207.50 h3.3 M348.5 207.50 h-3.3 M27.9 188.07 h1.7 M348.5 188.07 h-1.7 M27.9 176.70 h1.7 M348.5 176.70 h-1.7 M27.9 168.64 h1.7 M348.5 168.64 h-1.7 M27.9 162.38 h1.7 M348.5 162.38 h-1.7 M27.9 157.27 h1.7 M348.5 157.27 h-1.7 M27.9 152.95 h1.7 M348.5 152.95 h-1.7 M27.9 149.21 h1.7 M348.5 149.21 h-1.7 M27.9 145.90 h1.7 M348.5 145.90 h-1.7 M27.9 142.95 h3.3 M348.5 142.95 h-3.3 M27.9 123.52 h1.7 M348.5 123.52 h-1.7 M27.9 112.15 h1.7 M348.5 112.15 h-1.7 M27.9 104.09 h1.7 M348.5 104.09 h-1.7 M27.9 97.83 h1.7 M348.5 97.83 h-1.7 M27.9 92.72 h1.7 M348.5 92.72 h-1.7 M27.9 88.40 h1.7 M348.5 88.40 h-1.7 M27.9 84.66 h1.7 M348.5 84.66 h-1.7 M27.9 81.35 h1.7 M348.5 81.35 h-1.7 M27.9 78.40 h3.3 M348.5 78.40 h-3.3 M27.9 58.97 h1.7 M348.5 58.97 h-1.7 M27.9 47.60 h1.7 M348.5 47.60 h-1.7 M27.9 39.54 h1.7 M348.5 39.54 h-1.7 M27.9 33.28 h1.7 M348.5 33.28 h-1.7 M27.9 28.17 h1.7 M348.5 28.17 h-1.7 M27.9 23.85 h1.7 M348.5 23.85 h-1.7 M27.9 20.11 h1.7 M348.5 20.11 h-1.7 M27.9 16.80 h1.7 M348.5 16.80 h-1.7 M27.9 13.85 h3.3 M348.5 13.85 h-3.3" stroke="#000" stroke-width="1.0" fill="none"/>
<text x="27.9" y="248.0" font-size="7.2" font-weight="bold" text-anchor="middle" fill="#000" stroke="#000" stroke-width="0.3">0.01</text>
<text x="165.7" y="248.0" font-size="7.2" font-weight="bold" text-anchor="middle" fill="#000" stroke="#000" stroke-width="0.3">0.1</text>
<text x="303.5" y="248.0" font-size="7.2" font-weight="bold" text-anchor="middle" fill="#000" stroke="#000" stroke-width="0.3">1</text>
<text transform="translate(24.4 207.5) rotate(-90)" font-size="7.2" font-weight="bold" text-anchor="middle" fill="#000" stroke="#000" stroke-width="0.3">1</text>
<text transform="translate(24.4 142.9) rotate(-90)" font-size="7.2" font-weight="bold" text-anchor="middle" fill="#000" stroke="#000" stroke-width="0.3">10</text>
<text transform="translate(24.4 78.4) rotate(-90)" font-size="7.2" font-weight="bold" text-anchor="middle" fill="#000" stroke="#000" stroke-width="0.3">100</text>
<text transform="translate(24.4 13.9) rotate(-90)" font-size="7.2" font-weight="bold" text-anchor="middle" fill="#000" stroke="#000" stroke-width="0.3">1000</text>
<text x="176.3" y="269.3" font-size="11" letter-spacing="1.0" fill="#000" stroke="#000" stroke-width="0.3">r/r</text>
<text x="189.9" y="272.2" font-size="7.6" font-weight="bold" fill="#000">500</text>
<text transform="translate(7.8 140.55) rotate(-90) scale(1.0 1)" font-size="8.6" text-anchor="middle" fill="#000" stroke="#000" stroke-width="0.33">t</text>
<text transform="translate(11.7 137.0) rotate(-90) scale(1.0 1)" font-size="7.0" text-anchor="middle" fill="#000" stroke="#000" stroke-width="0.33">c</text>
<text transform="translate(8.8 133.15) rotate(-90) scale(0.9 1)" font-size="10.6" text-anchor="middle" fill="#000" stroke="#000" stroke-width="0.33">(</text>
<text transform="translate(7.8 129.0) rotate(-90) scale(1.0 1)" font-size="8.6" text-anchor="middle" fill="#000" stroke="#000" stroke-width="0.33">r</text>
<text transform="translate(8.8 125.6) rotate(-90) scale(0.9 1)" font-size="10.6" text-anchor="middle" fill="#000" stroke="#000" stroke-width="0.33">)</text>
<text transform="translate(8.8 117.15) rotate(-90) scale(0.9 1)" font-size="10.6" text-anchor="middle" fill="#000" stroke="#000" stroke-width="0.33">(</text>
<text transform="translate(7.8 112.4) rotate(-90) scale(0.78 1)" font-size="8.6" text-anchor="middle" fill="#000" stroke="#000" stroke-width="0.33">G</text>
<text transform="translate(7.8 107.65) rotate(-90) scale(1.0 1)" font-size="8.6" text-anchor="middle" fill="#000" stroke="#000" stroke-width="0.33">y</text>
<text transform="translate(7.8 103.6) rotate(-90) scale(1.0 1)" font-size="8.6" text-anchor="middle" fill="#000" stroke="#000" stroke-width="0.33">r</text>
<text transform="translate(8.8 99.8) rotate(-90) scale(0.9 1)" font-size="10.6" text-anchor="middle" fill="#000" stroke="#000" stroke-width="0.33">)</text>
</g>
</svg>
</body></html>
